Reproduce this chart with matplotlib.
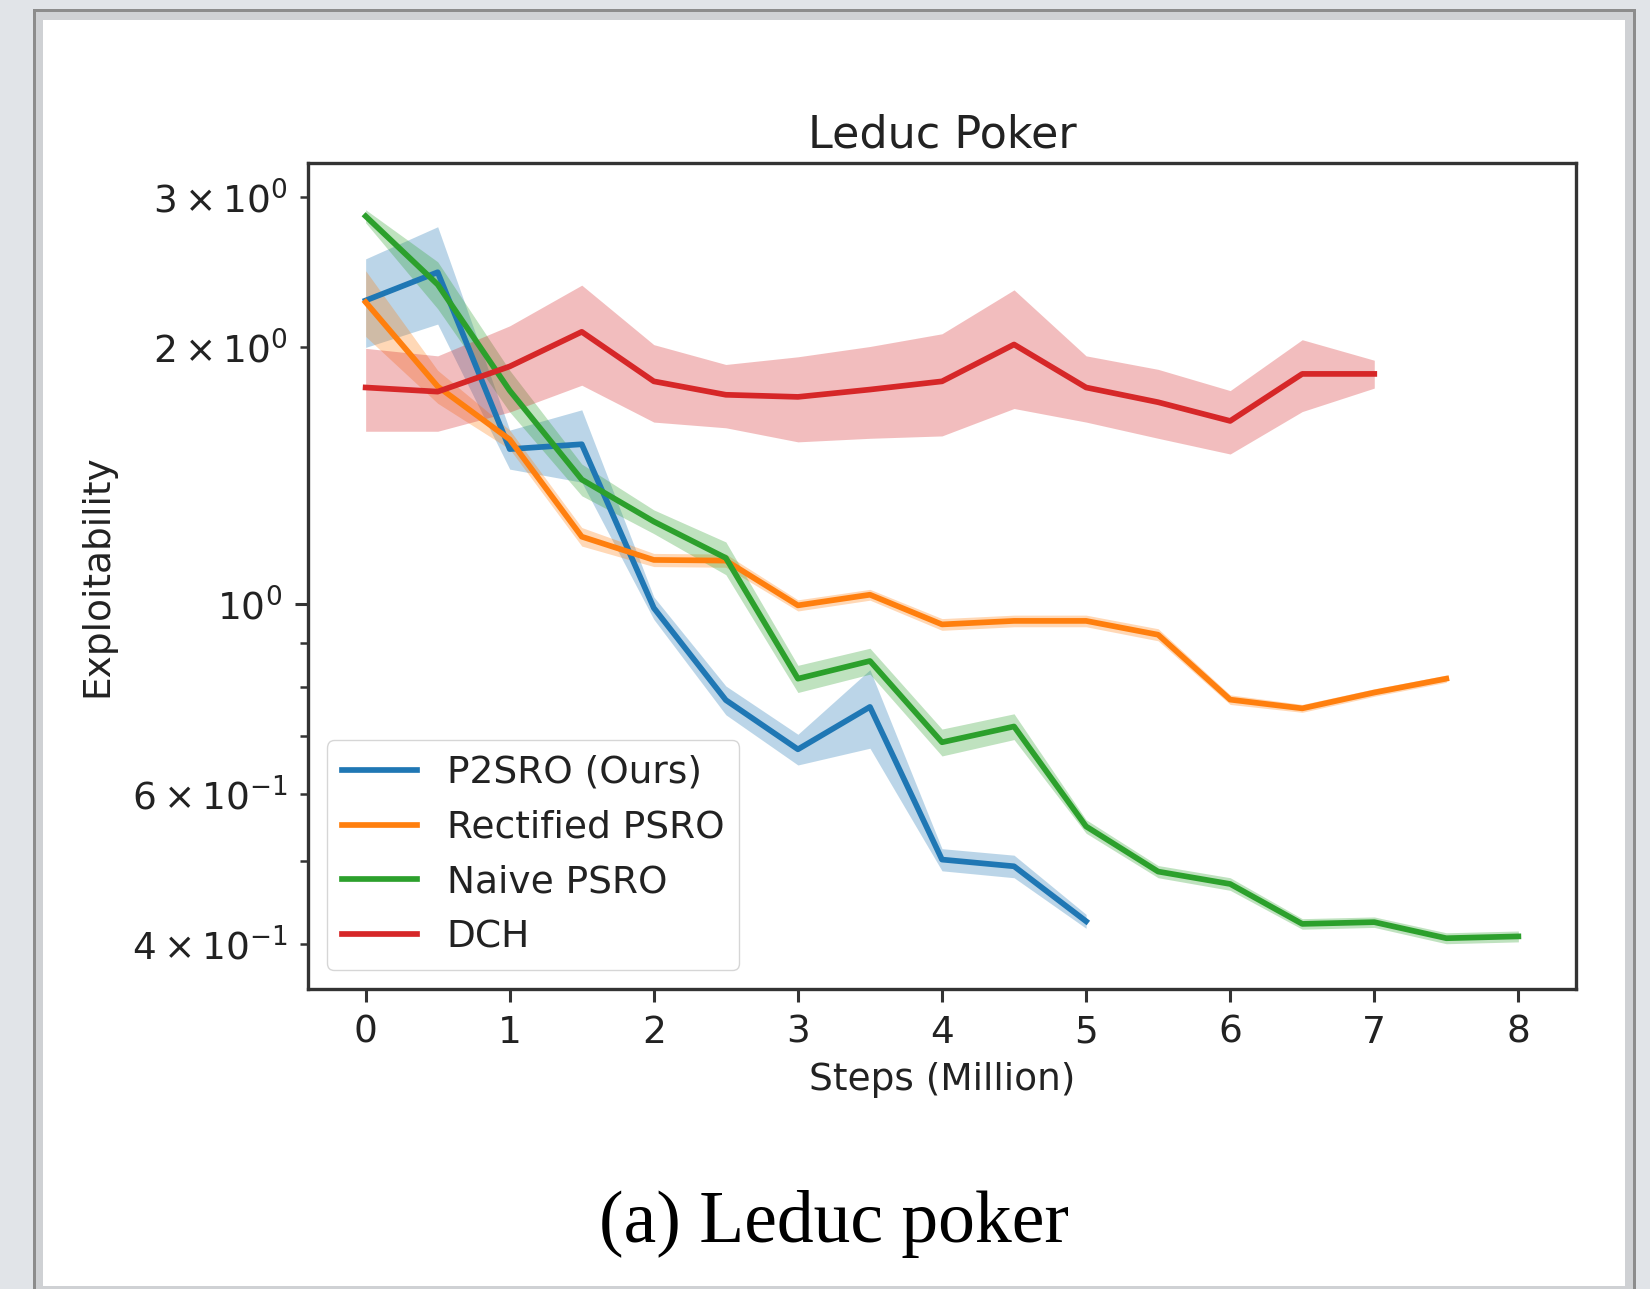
import matplotlib
matplotlib.use("Agg")
import matplotlib.pyplot as plt
from matplotlib.patches import Rectangle

# exploitability over training steps (million), mean and spread per method
p2sro_steps = [0, 0.5, 1, 1.5, 2, 2.5, 3, 3.5, 4, 4.5, 5]
p2sro_mean = [2.27, 2.45, 1.52, 1.54, 0.99, 0.772, 0.676, 0.758, 0.502, 0.493, 0.425]
p2sro_std = [0.27, 0.32, 0.08, 0.15, 0.03, 0.03, 0.028, 0.08, 0.015, 0.015, 0.008]

rect_steps = [0, 0.5, 1, 1.5, 2, 2.5, 3, 3.5, 4, 4.5, 5, 5.5, 6, 6.5, 7, 7.5]
rect_mean = [2.26, 1.80, 1.56, 1.20, 1.127, 1.125, 0.997, 1.026, 0.947, 0.956,
             0.956, 0.921, 0.773, 0.755, 0.788, 0.818]
rect_std = [0.2, 0.08, 0.04, 0.03, 0.02, 0.02, 0.015, 0.015, 0.015, 0.015,
            0.015, 0.015, 0.01, 0.008, 0.008, 0.008]

naive_steps = [0, 0.5, 1, 1.5, 2, 2.5, 3, 3.5, 4, 4.5, 5, 5.5, 6, 6.5, 7, 7.5, 8]
naive_mean = [2.85, 2.37, 1.78, 1.40, 1.25, 1.133, 0.818, 0.858, 0.689, 0.719,
              0.549, 0.486, 0.470, 0.422, 0.424, 0.406, 0.408]
naive_std = [0.05, 0.15, 0.1, 0.06, 0.04, 0.05, 0.03, 0.03, 0.025, 0.025,
             0.01, 0.008, 0.008, 0.006, 0.006, 0.006, 0.006]

dch_steps = [0, 0.5, 1, 1.5, 2, 2.5, 3, 3.5, 4, 4.5, 5, 5.5, 6, 6.5, 7]
dch_mean = [1.795, 1.775, 1.90, 2.086, 1.825, 1.76, 1.75, 1.785, 1.825, 2.016,
            1.795, 1.725, 1.64, 1.862, 1.862]
dch_std = [0.2, 0.18, 0.22, 0.28, 0.19, 0.15, 0.2, 0.22, 0.25, 0.32,
           0.16, 0.16, 0.14, 0.18, 0.07]

series = [
    ("P2SRO (Ours)", p2sro_steps, p2sro_mean, p2sro_std, "#1f77b4"),
    ("Rectified PSRO", rect_steps, rect_mean, rect_std, "#ff7f0e"),
    ("Naive PSRO", naive_steps, naive_mean, naive_std, "#2ca02c"),
    ("DCH", dch_steps, dch_mean, dch_std, "#d62728"),
]

W, H = 1650, 1289
fig = plt.figure(figsize=(W / 100, H / 100), dpi=100, facecolor="#e1e4e8")


def px_rect(x0, y0, x1, y1, color):
    fig.add_artist(Rectangle((x0 / W, 1 - y1 / H), (x1 - x0) / W, (y1 - y0) / H,
                             transform=fig.transFigure, facecolor=color,
                             edgecolor="none", zorder=-10))


# page frame behind the figure
px_rect(33, 9, 1636, H, "#8c8c8c")
px_rect(36, 12, 1633, H, "#cfd1d4")
px_rect(43, 20, 1625, 1286, "white")

ax = fig.add_axes([308 / W, 1 - 989 / H, (1576 - 308) / W, (989 - 163) / H])
ax.set_facecolor("white")

for label, xs, mean, std, color in series:
    lo = [m - s for m, s in zip(mean, std)]
    hi = [m + s for m, s in zip(mean, std)]
    ax.fill_between(xs, lo, hi, color=color, alpha=0.3, linewidth=0)
    ax.plot(xs, mean, color=color, linewidth=4.1, label=label)

ax.set_yscale("log")
ax.set_xlim(-0.4, 8.4)
ax.set_ylim(0.354, 3.29)
ax.set_xticks(range(9))

ax.set_title("Leduc Poker", fontsize=32, pad=11, color="#222222")
ax.set_xlabel("Steps (Million)", fontsize=27, color="#222222", labelpad=8)
ax.set_ylabel("Exploitability", fontsize=27, color="#222222", labelpad=12)

ax.tick_params(axis="both", which="major", labelsize=27, length=9.5, width=2.2,
               pad=9, colors="#333333", labelcolor="#222222")
ax.tick_params(axis="y", which="minor", labelsize=27, length=5.5, width=1.8,
               pad=9, colors="#333333", labelcolor="#222222")
for sp in ax.spines.values():
    sp.set_linewidth(2.4)
    sp.set_color("#333333")

leg = ax.legend(loc="lower left", fontsize=27, handlelength=2.0,
                borderaxespad=0.5, framealpha=0.8, edgecolor="#cccccc")
for t in leg.get_texts():
    t.set_color("#222222")

fig.text(834 / W, 1 - 1242 / H, "(a) Leduc poker", ha="center", va="baseline",
         fontsize=53, family="Liberation Serif", color="black")

fig.savefig("out.png", dpi=100, facecolor=fig.get_facecolor())
